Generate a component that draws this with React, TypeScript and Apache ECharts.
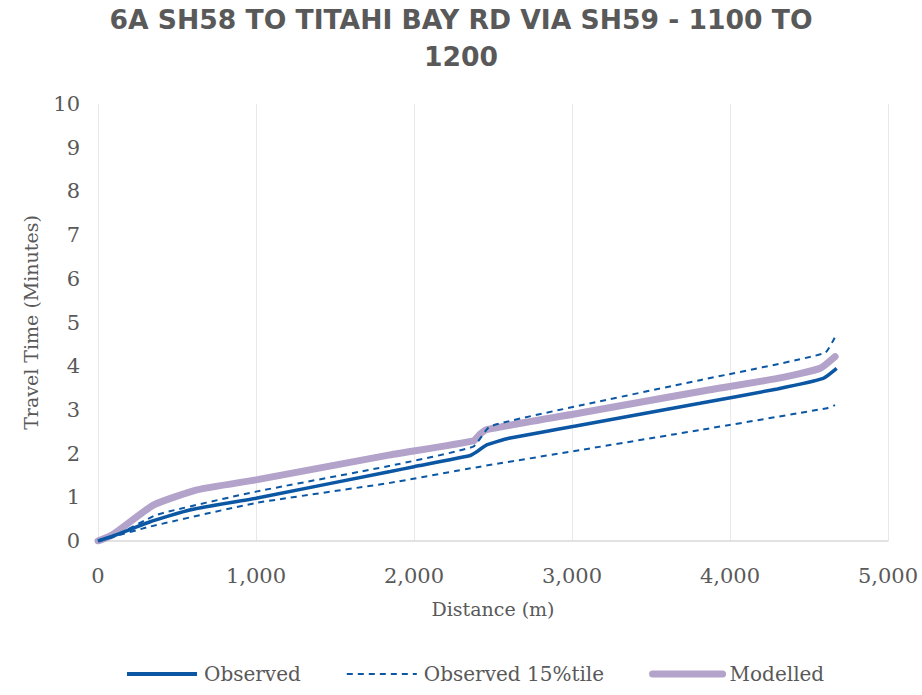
import React, { useEffect, useRef } from "react";
import * as echarts from "echarts";

const TITLE = "6A SH58 TO TITAHI BAY RD VIA SH59 - 1100 TO\n1200";
const X_NAME = "Distance (m)";
const Y_NAME = "Travel Time (Minutes)";

const observedDist = [0, 100, 330, 580, 1000, 1850, 2000, 2350, 2400, 2460, 2600, 3050, 3810, 4300, 4590, 4675];
const observedTime = [0, 0.12, 0.44, 0.71, 0.98, 1.59, 1.7, 1.95, 2.05, 2.2, 2.35, 2.65, 3.15, 3.48, 3.72, 3.95];

const upperDist = [0, 100, 373, 1000, 1848, 2375, 2480, 3050, 3810, 4600, 4665];
const upperTime = [0, 0.1, 0.6, 1.13, 1.72, 2.16, 2.62, 3.1, 3.68, 4.3, 4.67];

const lowerDist = [0, 100, 329, 1000, 1848, 2400, 3050, 3810, 4615, 4665];
const lowerTime = [0, 0.1, 0.33, 0.87, 1.33, 1.69, 2.08, 2.54, 3.04, 3.11];

const modelDist = [0, 95, 350, 626, 1000, 1848, 2375, 2420, 2460, 3050, 3810, 4300, 4570, 4665];
const modelTime = [0, 0.15, 0.82, 1.17, 1.4, 1.97, 2.29, 2.45, 2.55, 2.93, 3.42, 3.72, 3.95, 4.22];

const zip = (a: number[], b: number[]) => a.map((v, i) => [v, b[i]]);

const BLUE = "#0b57a4";
const PURPLE = "#b3a2c9";
const GRAY = "#595959";
const SERIF = "DejaVu Serif";

export default function App() {
  const ref = useRef<HTMLDivElement>(null);
  useEffect(() => {
    document.body.style.margin = "0";
    if (!ref.current) return;
    const chart = echarts.init(ref.current, undefined, { renderer: "svg" });
    chart.setOption({
      animation: false,
      backgroundColor: "#ffffff",
      title: {
        text: TITLE,
        left: "center",
        top: -4,
        textStyle: {
          fontFamily: "DejaVu Sans",
          fontWeight: "bold",
          fontSize: 26.6,
          color: GRAY,
          lineHeight: 37,
        },
      },
      legend: {
        bottom: 6,
        left: 120,
        data: [
          { name: "Observed", lineStyle: { width: 4, color: BLUE } },
          { name: "Observed 15%tile", lineStyle: { width: 2, color: BLUE, type: [6, 5] } },
          { name: "Modelled", lineStyle: { width: 7, color: PURPLE, cap: "round" } },
        ],
        itemWidth: 70,
        itemHeight: 14,
        itemGap: 45,
        itemStyle: { opacity: 0 },
        textStyle: { fontFamily: SERIF, fontSize: 20, color: GRAY, padding: [0, 0, 0, 2] },
      },
      grid: { left: 98, right: 34, top: 104, bottom: 154 },
      xAxis: {
        type: "value",
        min: 0,
        max: 5000,
        interval: 1000,
        name: X_NAME,
        nameLocation: "middle",
        nameGap: 58,
        nameTextStyle: { fontFamily: SERIF, fontSize: 19, color: GRAY },
        axisLine: { show: true, lineStyle: { color: "#d9d9d9", width: 1.5 } },
        axisTick: { show: false },
        axisLabel: {
          fontFamily: SERIF,
          fontSize: 21,
          color: GRAY,
          margin: 24,
          formatter: (v: number) => v.toLocaleString("en-US"),
        },
        splitLine: { show: true, lineStyle: { color: "#e8e8e8", width: 1 } },
      },
      yAxis: {
        type: "value",
        min: 0,
        max: 10,
        interval: 1,
        name: Y_NAME,
        nameLocation: "middle",
        nameGap: 58,
        nameTextStyle: { fontFamily: SERIF, fontSize: 19, color: GRAY },
        axisLine: { show: false },
        axisTick: { show: false },
        axisLabel: { fontFamily: SERIF, fontSize: 21, color: GRAY, margin: 18 },
        splitLine: { show: false },
      },
      series: [
        {
          name: "Observed",
          type: "line",
          data: zip(observedDist, observedTime),
          showSymbol: false,
          symbol: "none",
          smooth: 0.15,
          lineStyle: { color: BLUE, width: 3.5 },
          itemStyle: { color: BLUE },
          z: 3,
        },
        {
          name: "Observed 15%tile",
          type: "line",
          data: zip(lowerDist, lowerTime),
          showSymbol: false,
          symbol: "none",
          smooth: 0.15,
          lineStyle: { color: BLUE, width: 2, type: [6, 5] },
          itemStyle: { color: BLUE },
          z: 2,
        },
        {
          name: "Observed 85%tile",
          type: "line",
          data: zip(upperDist, upperTime),
          showSymbol: false,
          symbol: "none",
          smooth: 0.15,
          lineStyle: { color: BLUE, width: 2, type: [6, 5] },
          itemStyle: { color: BLUE },
          z: 2,
        },
        {
          name: "Modelled",
          type: "line",
          data: zip(modelDist, modelTime),
          showSymbol: false,
          symbol: "none",
          smooth: 0.15,
          lineStyle: { color: PURPLE, width: 7, cap: "round" },
          itemStyle: { color: PURPLE },
          z: 1,
        },
      ],
    });
    return () => chart.dispose();
  }, []);
  return <div ref={ref} style={{ width: 922, height: 695 }} />;
}
